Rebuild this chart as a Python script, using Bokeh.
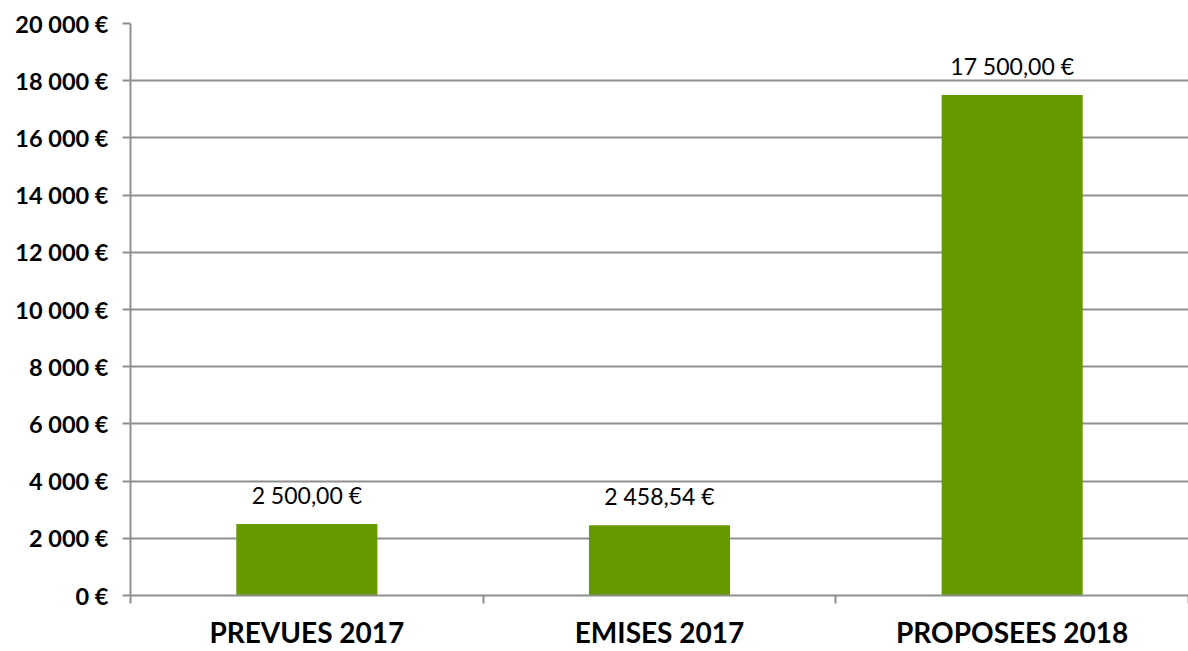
import numpy as np
from bokeh.plotting import figure
from bokeh.models import Range1d, FixedTicker, ColumnDataSource, LabelSet
from bokeh.core.properties import value
from bokeh.embed import file_html
from bokeh.resources import INLINE

categories = ["PREVUES 2017", "EMISES 2017", "PROPOSEES 2018"]
values = [2500.00, 2458.54, 17500.00]
y_ticks = list(range(0, 20001, 2000))

def fr_int(v):
    return f"{v:,}".replace(",", " ") + " €"

def fr_money(v):
    s = f"{v:,.2f}"
    return s.replace(",", " ").replace(".", ",") + " €"

x_pos = list(np.arange(len(categories)) + 0.5)
src = ColumnDataSource(dict(x=x_pos, top=values, label=[fr_money(v) for v in values]))

GRAY = "#8f8f8f"
GREEN = "#669900"

p = figure(width=1188, height=651, output_backend="svg", toolbar_location=None,
           x_range=Range1d(0, len(categories)), y_range=Range1d(0, 20000),
           min_border_left=130, min_border_right=0, min_border_top=23, min_border_bottom=54)
p.outline_line_color = None
p.background_fill_color = "white"

p.vbar(x="x", top="top", width=0.4, source=src, fill_color=GREEN, line_color=None)

labels = LabelSet(x="x", y="top", text="label", source=src, text_align="center",
                  text_baseline="bottom", y_offset=15, text_font=value("Lato"),
                  text_font_size="23px", text_color="black")
p.add_layout(labels)

# y axis
p.yaxis.ticker = FixedTicker(ticks=y_ticks, minor_ticks=[])
p.yaxis.major_label_overrides = {t: fr_int(t) for t in y_ticks}
p.yaxis.major_label_text_font = "Lato"
p.yaxis.major_label_text_font_style = "bold"
p.yaxis.major_label_text_font_size = "23.5px"
p.yaxis.major_label_text_color = "black"
p.yaxis.major_label_standoff = 14
p.yaxis.major_tick_out = 8
p.yaxis.major_tick_in = 0
p.yaxis.major_tick_line_color = GRAY
p.yaxis.major_tick_line_width = 2
p.yaxis.axis_line_color = GRAY
p.yaxis.axis_line_width = 2

# x axis
p.xaxis.ticker = FixedTicker(ticks=x_pos, minor_ticks=list(range(len(categories) + 1)))
p.xaxis.major_label_overrides = {x: c for x, c in zip(x_pos, categories)}
p.xaxis.major_label_text_font = "Lato"
p.xaxis.major_label_text_font_style = "bold"
p.xaxis.major_label_text_font_size = "28px"
p.xaxis.major_label_text_color = "black"
p.xaxis.major_label_standoff = 11
p.xaxis.major_tick_out = 0
p.xaxis.major_tick_in = 0
p.xaxis.minor_tick_out = 8
p.xaxis.minor_tick_in = 0
p.xaxis.minor_tick_line_color = GRAY
p.xaxis.minor_tick_line_width = 2
p.xaxis.axis_line_color = GRAY
p.xaxis.axis_line_width = 2

p.xgrid.grid_line_color = None
p.ygrid.grid_line_color = GRAY
p.ygrid.grid_line_width = 2

open("out.html", "w").write(file_html(p, INLINE))
